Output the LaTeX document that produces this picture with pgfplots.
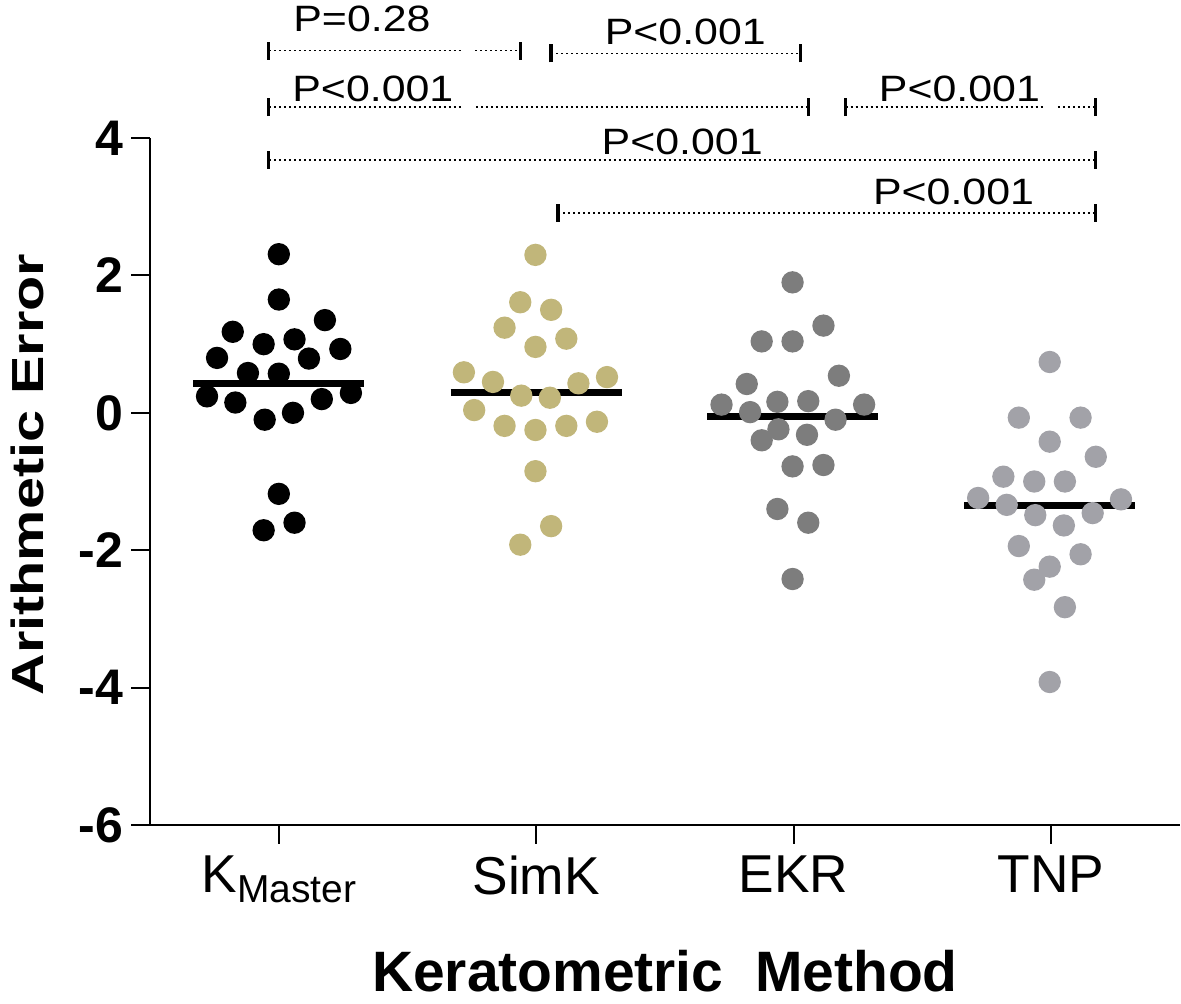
\documentclass[border=0pt]{standalone}
\usepackage{pgfplots}
\pgfplotsset{compat=1.18}
\usepackage{fontspec}
\setmainfont{Liberation Sans}
\usepackage{graphicx}

\definecolor{simk}{RGB}{193,182,122}
\definecolor{ekr}{RGB}{125,125,125}
\definecolor{tnp}{RGB}{162,162,168}

% p-value text and bracket ends
\newcommand{\pval}[3]{\node[anchor=base west, inner sep=0pt] at (axis cs:#1,#2)
  {\scalebox{1.17}[1]{\fontsize{11}{13}\selectfont #3}};}
\newcommand{\pline}[3]{\draw[line width=0.5pt, dash pattern=on 0.6pt off 0.9pt]
  (axis cs:#1,#3) -- (axis cs:#2,#3);}
\newcommand{\pcap}[2]{\draw[line width=1pt] ([yshift=-2.7pt]axis cs:#1,#2) -- ([yshift=2.7pt]axis cs:#1,#2);}

\begin{document}
\begin{tikzpicture}
\begin{axis}[
  scale only axis, width=309pt, height=206.1pt,
  xmin=0.5, xmax=4.5, ymin=-6, ymax=4,
  axis x line=bottom, axis y line=left,
  axis line style={-, line width=0.8pt},
  clip=false,
  xtick={1,2,3,4},
  xticklabels={K\raisebox{-3.2pt}{\fontsize{11.7}{12}\selectfont Master}, SimK, EKR, TNP},
  ytick={-6,-4,-2,0,2,4},
  yticklabels={-6,-4,-2,0,2,4},
  tick align=outside, major tick length=5.7pt,
  tick style={line width=0.6pt, black},
  x tick label style={font=\fontsize{16}{19}\selectfont},
  y tick label style={font=\bfseries\fontsize{15}{18}\selectfont, inner sep=0pt, xshift=-2.2pt},
  xlabel={\bfseries\fontsize{17.1}{20}\selectfont Keratometric\ \ Method},
  xlabel style={at={(axis description cs:0.5,-0.2428)}, anchor=base},
  ylabel={\scalebox{1.28}[1]{\bfseries\fontsize{13.5}{16}\selectfont Arithmetic Error}},
  ylabel style={at={(axis description cs:-0.119,0.51)}, anchor=center},
]
% K Master
\addplot[only marks, mark=*, mark size=3.15pt, black] coordinates {
(1.000,2.31) (1.000,1.65) (0.821,1.18) (1.179,1.35) (0.941,1.00)
(1.061,1.07) (0.760,0.80) (1.117,0.79) (1.239,0.93) (0.880,0.58)
(1.000,0.57) (0.721,0.24) (1.280,0.29) (0.831,0.15) (1.167,0.20)
(0.945,-0.10) (1.055,0.00) (1.000,-1.18) (0.941,-1.71) (1.061,-1.60)};
% SimK
\addplot[only marks, mark=*, mark size=3.15pt, simk] coordinates {
(1.997,2.30) (1.938,1.61) (2.058,1.50) (1.877,1.24) (1.997,0.96)
(2.117,1.08) (1.719,0.59) (1.832,0.45) (2.164,0.43) (2.275,0.52)
(1.942,0.25) (2.053,0.22) (1.759,0.04) (1.877,-0.19) (1.997,-0.25)
(2.117,-0.19) (2.236,-0.13) (1.997,-0.85) (2.058,-1.65) (1.938,-1.92)};
% EKR
\addplot[only marks, mark=*, mark size=3.15pt, ekr] coordinates {
(2.996,1.90) (3.116,1.27) (2.876,1.04) (2.996,1.04) (3.176,0.54)
(2.818,0.42) (2.720,0.12) (2.937,0.16) (3.057,0.17) (3.274,0.12)
(2.831,0.01) (3.163,-0.10) (2.941,-0.24) (3.052,-0.32) (2.876,-0.40)
(2.996,-0.78) (3.116,-0.76) (2.937,-1.40) (3.057,-1.60) (2.996,-2.42)};
% TNP
\addplot[only marks, mark=*, mark size=3.15pt, tnp] coordinates {
(3.995,0.74) (3.875,-0.07) (4.115,-0.07) (3.995,-0.42) (4.174,-0.64)
(3.815,-0.93) (3.935,-1.00) (4.054,-1.00) (3.717,-1.24) (4.272,-1.26)
(3.828,-1.34) (3.939,-1.49) (4.162,-1.46) (4.050,-1.64) (3.875,-1.94)
(4.115,-2.06) (3.995,-2.24) (3.935,-2.43) (4.054,-2.83) (3.995,-3.92)};
% means
\addplot[line width=2.1pt, black] coordinates {(0.668,0.43) (1.331,0.43)};
\addplot[line width=2.1pt, black] coordinates {(1.667,0.30) (2.332,0.30)};
\addplot[line width=2.1pt, black] coordinates {(2.665,-0.05) (3.329,-0.05)};
\addplot[line width=2.1pt, black] coordinates {(3.663,-1.35) (4.328,-1.35)};

% comparisons
\pline{0.961}{1.717}{5.274} \pline{1.764}{1.938}{5.274}
\pcap{0.961}{5.274} \pcap{1.938}{5.274}
\pval{1.054}{5.55}{P=0.28}

\pline{2.058}{3.027}{5.233}
\pcap{2.058}{5.233} \pcap{3.027}{5.233}
\pval{2.264}{5.36}{P<0.001}

\pline{0.961}{1.709}{4.450} \pline{1.767}{3.058}{4.450}
\pcap{0.961}{4.450} \pcap{3.058}{4.450}
\pval{1.050}{4.531}{P<0.001}

\pline{3.202}{3.977}{4.450} \pline{4.027}{4.174}{4.450}
\pcap{3.202}{4.450} \pcap{4.174}{4.450}
\pval{3.329}{4.531}{P<0.001}

\pline{0.961}{4.174}{3.683}
\pcap{0.961}{3.683} \pcap{4.174}{3.683}
\pval{2.252}{3.755}{P<0.001}

\pline{2.085}{4.174}{2.911}
\pcap{2.085}{2.911} \pcap{4.174}{2.911}
\pval{3.306}{3.028}{P<0.001}

\path (axis cs:-0.0736,6.012) rectangle (axis cs:4.504,-8.443);
\end{axis}
\end{tikzpicture}
\end{document}
